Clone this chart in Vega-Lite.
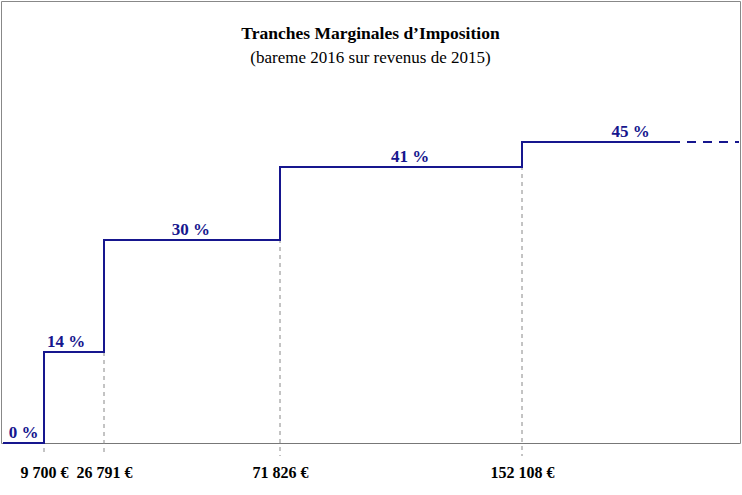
{
  "$schema": "https://vega.github.io/schema/vega-lite/v6.json",
  "width": 739,
  "height": 442,
  "autosize": {"type": "none"},
  "padding": {"left": 1, "top": 1, "right": 2, "bottom": 52},
  "background": "white",
  "config": {
    "view": {"stroke": "#888888", "strokeWidth": 1},
    "font": "'Liberation Serif', 'Times New Roman', serif"
  },
  "title": {
    "text": "Tranches Marginales d’Imposition",
    "subtitle": "(bareme 2016 sur revenus de 2015)",
    "font": "'Liberation Serif', 'Times New Roman', serif",
    "fontSize": 17.5,
    "fontWeight": "bold",
    "color": "black",
    "subtitleFont": "'Liberation Serif', 'Times New Roman', serif",
    "subtitleFontSize": 17,
    "subtitleColor": "black",
    "subtitlePadding": 8,
    "anchor": "middle",
    "offset": -65
  },
  "datasets": {
    "steps": [
      {"income": 0, "rate": 0},
      {"income": 9700, "rate": 14},
      {"income": 26791, "rate": 30},
      {"income": 71826, "rate": 41},
      {"income": 152108, "rate": 45},
      {"income": 200000, "rate": 45}
    ],
    "thresholds": [
      {"income": 9700, "rate": 14},
      {"income": 26791, "rate": 30},
      {"income": 71826, "rate": 41},
      {"income": 152108, "rate": 45}
    ],
    "extension": [
      {"income": 200000, "rate": 45},
      {"income": 250000, "rate": 45}
    ],
    "labels": [
      {"pos": 4850, "rate": 0, "label": "0 %"},
      {"pos": 16000, "rate": 14, "label": "14 %"},
      {"pos": 49000, "rate": 30, "label": "30 %"},
      {"pos": 115000, "rate": 41, "label": "41 %"},
      {"pos": 187000, "rate": 45, "label": "45 %"}
    ]
  },
  "layer": [
    {
      "data": {"name": "thresholds"},
      "mark": {"type": "rule", "color": "#888888", "strokeWidth": 1, "strokeDash": [4, 4]},
      "encoding": {
        "x": {
          "field": "income",
          "type": "quantitative",
          "scale": {
            "domain": [0, 9700, 26791, 71826, 152108, 200000, 250000],
            "range": [2, 43, 103, 279, 521, 670, 738],
            "nice": false,
            "zero": false
          },
          "axis": {
            "values": [9700, 26791, 71826, 152108],
            "labelExpr": "replace(format(datum.value, ',d'), ',', ' ') + ' €'",
            "title": null,
            "grid": false,
            "ticks": false,
            "domain": true,
            "domainColor": "#777777",
            "domainWidth": 1,
            "labelFont": "'Liberation Serif', 'Times New Roman', serif",
            "labelFontSize": 16,
            "labelFontWeight": "bold",
            "labelColor": "black",
            "labelPadding": 21,
            "labelOverlap": false
          }
        },
        "y": {
          "field": "rate",
          "type": "quantitative",
          "scale": {"domain": [0, 14, 30, 41, 45], "range": [442, 351, 239, 166, 141], "nice": false, "zero": false},
          "axis": null
        },
        "y2": {"datum": -2}
      }
    },
    {
      "data": {"name": "steps"},
      "mark": {"type": "line", "interpolate": "step-after", "color": "#16168e", "strokeWidth": 2},
      "encoding": {
        "x": {"field": "income", "type": "quantitative"},
        "y": {"field": "rate", "type": "quantitative"}
      }
    },
    {
      "data": {"name": "extension"},
      "mark": {"type": "line", "color": "#16168e", "strokeWidth": 2, "strokeDash": [9, 7]},
      "encoding": {
        "x": {"field": "income", "type": "quantitative"},
        "y": {"field": "rate", "type": "quantitative"}
      }
    },
    {
      "data": {"name": "labels"},
      "mark": {"type": "text", "color": "#16168e", "font": "'Liberation Serif', 'Times New Roman', serif", "fontSize": 17, "fontWeight": "bold", "baseline": "alphabetic", "align": "center", "dy": -5},
      "encoding": {
        "x": {"field": "pos", "type": "quantitative"},
        "y": {"field": "rate", "type": "quantitative"},
        "text": {"field": "label", "type": "nominal"}
      }
    }
  ]
}
